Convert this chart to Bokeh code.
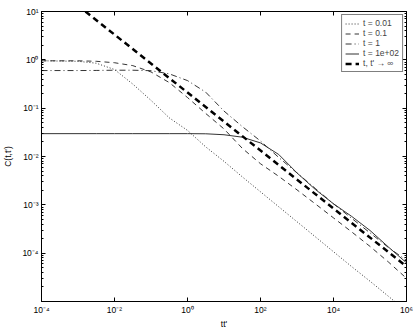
from bokeh.plotting import figure
from bokeh.models import LogAxis, FixedTicker, CustomJSTickFormatter
from bokeh.embed import file_html
from bokeh.resources import INLINE

# ---- data ----
x_grid = [1e-4, 1e-3, 3.16e-3, 1e-2, 3.16e-2, 0.1, 0.316, 1.0, 3.16, 10.0,
          31.6, 100.0, 316.0, 1e3, 3.16e3, 1e4, 3.16e4, 1e5, 3.16e5, 1e6]

c_t001 = [0.955, 0.933, 0.851, 0.631, 0.316, 0.145, 0.0631, 0.0347, 0.0158, 0.00794,
          0.0038, 0.00186, 0.000912, 0.000447, 0.000219, 0.000107, 5.25e-5, 2.63e-5, 1.29e-5, 6.3e-6]
c_t01 = [0.955, 0.955, 0.933, 0.871, 0.759, 0.562, 0.339, 0.166, 0.0776, 0.0372,
         0.0148, 0.00708, 0.00389, 0.00204, 0.00105, 0.000537, 0.000275, 0.000138, 6.61e-5, 3.02e-5]
c_t1 = [0.6, 0.6, 0.603, 0.61, 0.61, 0.596, 0.513, 0.372, 0.214, 0.0871,
        0.0417, 0.0209, 0.00955, 0.00457, 0.00219, 0.00105, 0.000525, 0.000263, 0.000132, 7.08e-5]
c_t100 = [0.0297, 0.0297, 0.0297, 0.0297, 0.0297, 0.0297, 0.0297, 0.0297, 0.0295, 0.0282,
          0.0251, 0.0191, 0.011, 0.00457, 0.00209, 0.00105, 0.000575, 0.000295, 0.000135, 6.31e-5]
x_inf = [1.6e-3, 1e6]
c_inf = [10.0, 5.3e-5]

labels = ["t = 0.01", "t = 0.1", "t = 1", "t = 1e+02", "t, t' \u2192 \u221e"]
x_ticks = [1e-4, 1e-2, 1.0, 1e2, 1e4, 1e6]
y_ticks = [1e-4, 1e-3, 1e-2, 1e-1, 1.0, 10.0]
y_minor = [m * 10.0 ** k for k in range(-5, 1) for m in range(2, 10)]

FONT = "Liberation Sans"

p = figure(width=415, height=331, x_axis_type="log", y_axis_type="log",
           x_range=(1e-4, 1e6), y_range=(1e-5, 10),
           output_backend="svg", toolbar_location=None,
           min_border_left=33, min_border_right=9, min_border_top=11, min_border_bottom=27)
p.outline_line_color = "black"
p.outline_line_width = 1
p.xgrid.visible = False
p.ygrid.visible = False
p.background_fill_color = "white"
p.border_fill_color = "white"

p.line(x_grid, c_t001, line_color="#333333", line_width=1, line_dash="1 2", legend_label=labels[0])
p.line(x_grid, c_t01, line_color="black", line_width=0.8, line_dash="5 4", legend_label=labels[1])
p.line(x_grid, c_t1, line_color="black", line_width=0.8, line_dash="6 3 1 3", legend_label=labels[2])
p.line(x_grid, c_t100, line_color="#333333", line_width=1, legend_label=labels[3])
p.line(x_inf, c_inf, line_color="black", line_width=2.5, line_dash="6 4", legend_label=labels[4])

fmt = CustomJSTickFormatter(code="""
const sup = {"-":"\u207b","0":"\u2070","1":"\u00b9","2":"\u00b2","3":"\u00b3","4":"\u2074","5":"\u2075","6":"\u2076","7":"\u2077","8":"\u2078","9":"\u2079"};
const e = Math.round(Math.log10(tick));
return "10" + String(e).split("").map(c => sup[c]).join("");
""")
blank = CustomJSTickFormatter(code='return "";')

def style(ax, labels_on):
    ax.major_tick_in = 4
    ax.major_tick_out = 0
    ax.minor_tick_in = 2
    ax.minor_tick_out = 0
    ax.axis_line_color = "black"
    ax.major_tick_line_color = "black"
    ax.minor_tick_line_color = "black"
    if labels_on:
        ax.formatter = fmt
        ax.major_label_text_font = FONT
        ax.major_label_text_font_size = "8.5px"
        ax.major_label_text_color = "black"
        ax.major_label_standoff = 3
        ax.axis_label_text_font = FONT
        ax.axis_label_text_font_size = "8.5px"
        ax.axis_label_text_font_style = "normal"
        ax.axis_label_text_color = "black"
    else:
        ax.formatter = blank
        ax.major_label_standoff = 0

xa = p.xaxis[0]
xa.ticker = FixedTicker(ticks=x_ticks, minor_ticks=[])
style(xa, True)
xa.axis_label = "tt'"
xa.axis_label_standoff = 1

ya = p.yaxis[0]
ya.ticker = FixedTicker(ticks=y_ticks, minor_ticks=y_minor)
style(ya, True)
ya.axis_label = "C(t,t')"
ya.axis_label_standoff = 6

top = LogAxis(ticker=FixedTicker(ticks=x_ticks, minor_ticks=[]))
style(top, False)
p.add_layout(top, "above")
right = LogAxis(ticker=FixedTicker(ticks=y_ticks, minor_ticks=y_minor))
style(right, False)
p.add_layout(right, "right")

lg = p.legend[0]
lg.location = "top_right"
lg.margin = 3
lg.padding = 3
lg.spacing = 0
lg.label_text_font = FONT
lg.label_text_font_size = "8.5px"
lg.label_height = 9
lg.glyph_height = 9
lg.glyph_width = 14
lg.label_standoff = 4
lg.border_line_color = "black"
lg.border_line_width = 1
lg.background_fill_alpha = 1

open("out.html", "w").write(file_html(p, INLINE))
